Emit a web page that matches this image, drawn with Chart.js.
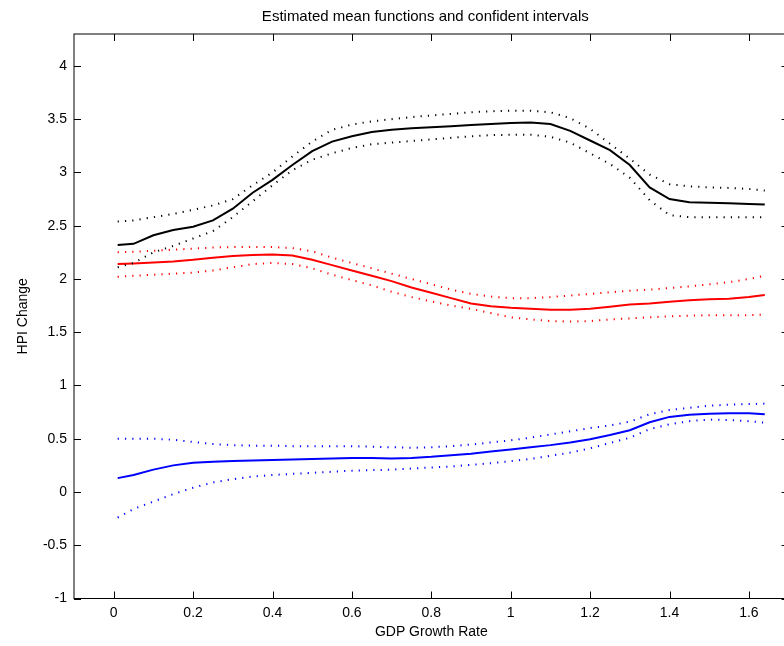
<!DOCTYPE html>
<html>
<head>
<meta charset="utf-8">
<title>HPI Change vs GDP Growth Rate</title>
<script src="https://cdn.jsdelivr.net/npm/chart.js@4.4.0/dist/chart.umd.min.js"></script>
<style>
  html, body { margin: 0; padding: 0; background: #fff; overflow: hidden; }
  #wrap { width: 800px; height: 646px; }
</style>
</head>
<body>
<div id="wrap"><canvas id="hpi" width="800" height="646"></canvas></div>
<script>
// GDP growth grid
const gdp = [0.01, 0.05, 0.1, 0.15, 0.2, 0.25, 0.3, 0.35, 0.4, 0.45, 0.5, 0.55, 0.6, 0.65, 0.7, 0.75, 0.8,
  0.85, 0.9, 0.95, 1.0, 1.05, 1.1, 1.15, 1.2, 1.25, 1.3, 1.35, 1.4, 1.45, 1.5, 1.55, 1.6, 1.64];

// black curve + band
const blackMean = [2.32, 2.33, 2.41, 2.46, 2.49, 2.55, 2.66, 2.81, 2.93, 3.07, 3.20, 3.29, 3.34, 3.38, 3.40, 3.415, 3.425,
  3.435, 3.445, 3.455, 3.465, 3.47, 3.455, 3.39, 3.30, 3.21, 3.07, 2.86, 2.75, 2.72, 2.715, 2.71, 2.705, 2.70];
const blackUpper = [2.54, 2.55, 2.58, 2.61, 2.65, 2.69, 2.75, 2.88, 3.00, 3.15, 3.29, 3.40, 3.45, 3.48, 3.50, 3.52, 3.535,
  3.55, 3.565, 3.575, 3.58, 3.58, 3.565, 3.51, 3.41, 3.27, 3.13, 2.98, 2.89, 2.87, 2.86, 2.855, 2.845, 2.83];
const blackLower = [2.11, 2.15, 2.25, 2.31, 2.38, 2.45, 2.58, 2.73, 2.88, 3.02, 3.12, 3.18, 3.23, 3.265, 3.28, 3.295, 3.31,
  3.325, 3.34, 3.35, 3.355, 3.355, 3.335, 3.28, 3.18, 3.08, 2.95, 2.74, 2.60, 2.58, 2.58, 2.58, 2.58, 2.58];

// red curve + band
const redMean = [2.14, 2.145, 2.155, 2.165, 2.18, 2.20, 2.215, 2.225, 2.23, 2.22, 2.18, 2.13, 2.08, 2.03, 1.98, 1.92, 1.87,
  1.82, 1.77, 1.745, 1.73, 1.72, 1.71, 1.71, 1.72, 1.74, 1.76, 1.77, 1.785, 1.80, 1.81, 1.815, 1.83, 1.85];
const redUpper = [2.25, 2.255, 2.265, 2.275, 2.285, 2.295, 2.30, 2.30, 2.30, 2.29, 2.26, 2.20, 2.15, 2.10, 2.05, 2.00, 1.95,
  1.90, 1.86, 1.835, 1.82, 1.82, 1.83, 1.845, 1.86, 1.875, 1.89, 1.90, 1.915, 1.93, 1.95, 1.97, 2.00, 2.03];
const redLower = [2.02, 2.03, 2.04, 2.05, 2.06, 2.08, 2.11, 2.14, 2.15, 2.14, 2.10, 2.04, 1.99, 1.94, 1.88, 1.83, 1.79,
  1.75, 1.72, 1.68, 1.64, 1.62, 1.605, 1.60, 1.605, 1.62, 1.63, 1.64, 1.65, 1.655, 1.66, 1.66, 1.66, 1.665];

// blue curve + band
const blueMean = [0.13, 0.16, 0.21, 0.25, 0.275, 0.285, 0.29, 0.295, 0.30, 0.305, 0.31, 0.315, 0.32, 0.32, 0.315, 0.32, 0.33,
  0.345, 0.36, 0.38, 0.40, 0.42, 0.44, 0.465, 0.495, 0.535, 0.58, 0.655, 0.705, 0.725, 0.735, 0.74, 0.74, 0.73];
const blueUpper = [0.50, 0.50, 0.50, 0.49, 0.47, 0.45, 0.44, 0.435, 0.435, 0.43, 0.43, 0.43, 0.43, 0.425, 0.42, 0.415, 0.42,
  0.43, 0.445, 0.465, 0.485, 0.51, 0.54, 0.57, 0.60, 0.625, 0.66, 0.73, 0.77, 0.79, 0.81, 0.82, 0.825, 0.83];
const blueLower = [-0.24, -0.16, -0.09, -0.02, 0.04, 0.09, 0.12, 0.145, 0.16, 0.17, 0.18, 0.19, 0.20, 0.205, 0.21, 0.22, 0.23,
  0.24, 0.255, 0.27, 0.29, 0.31, 0.34, 0.37, 0.41, 0.46, 0.51, 0.59, 0.635, 0.665, 0.68, 0.675, 0.665, 0.65];

const xTicks = [0, 0.2, 0.4, 0.6, 0.8, 1, 1.2, 1.4, 1.6];
const yTicks = [-1, -0.5, 0, 0.5, 1, 1.5, 2, 2.5, 3, 3.5, 4];
const titleText = 'Estimated mean functions and confident intervals';

Chart.defaults.font.family = "'Liberation Sans', Arial, Helvetica, sans-serif";
Chart.defaults.font.size = 14;
Chart.defaults.color = '#000';

const pts = arr => gdp.map((x, i) => ({ x: x, y: arr[i] }));

const solid = (arr, col) => ({
  data: pts(arr), borderColor: col, borderWidth: 2, pointRadius: 0, fill: false, tension: 0
});
// short dots every ~7px, like matlab ':'
const dotted = (arr, col) => ({
  data: pts(arr), borderColor: col, borderWidth: 2, borderDash: [1.2, 6.1], borderCapStyle: 'butt',
  pointRadius: 0, fill: false, tension: 0
});

// box around the axes with inward ticks on all four sides, title centred over the axes
const TICK = 7;
const boxTicks = {
  id: 'boxTicks',
  afterDraw(chart) {
    const { ctx, chartArea: a, scales: { x, y } } = chart;
    ctx.save();
    ctx.strokeStyle = '#000';
    ctx.lineWidth = 1;
    ctx.strokeRect(a.left, a.top, a.right - a.left, a.bottom - a.top);
    ctx.beginPath();
    x.ticks.forEach(t => {
      const px = Math.round(x.getPixelForValue(t.value)) + 0.5;
      ctx.moveTo(px, a.bottom); ctx.lineTo(px, a.bottom - TICK);
      ctx.moveTo(px, a.top); ctx.lineTo(px, a.top + TICK);
    });
    y.ticks.forEach(t => {
      const py = Math.round(y.getPixelForValue(t.value)) + 0.5;
      ctx.moveTo(a.left, py); ctx.lineTo(a.left + TICK, py);
      ctx.moveTo(a.right, py); ctx.lineTo(a.right - TICK, py);
    });
    ctx.stroke();

    ctx.fillStyle = '#000';
    ctx.font = "15px 'Liberation Sans', Arial, Helvetica, sans-serif";
    ctx.textAlign = 'center';
    ctx.textBaseline = 'middle';
    ctx.fillText(titleText, (a.left + a.right) / 2 - 6, 17);
    ctx.restore();
  }
};

new Chart(document.getElementById('hpi'), {
  type: 'line',
  data: {
    datasets: [
      dotted(blackUpper, '#000000'), dotted(blackLower, '#000000'), solid(blackMean, '#000000'),
      dotted(redUpper, '#ff0000'), dotted(redLower, '#ff0000'), solid(redMean, '#ff0000'),
      dotted(blueUpper, '#0000ff'), dotted(blueLower, '#0000ff'), solid(blueMean, '#0000ff')
    ]
  },
  options: {
    responsive: false,
    animation: false,
    layout: { padding: { left: 0, top: 34, right: 11.4, bottom: 0 } },
    plugins: {
      legend: { display: false },
      tooltip: { enabled: false },
      title: { display: false }
    },
    scales: {
      x: {
        type: 'linear',
        min: -0.1,
        max: 1.7,
        afterBuildTicks: s => { s.ticks = xTicks.map(v => ({ value: v })); },
        afterFit: s => { s.height = 646 - 598.5; },
        grid: { display: false, drawTicks: false },
        border: { display: false },
        ticks: { padding: 6, maxRotation: 0, callback: v => String(v) },
        title: { display: true, text: 'GDP Growth Rate', font: { size: 14 }, padding: { top: 0, bottom: 5.6 } }
      },
      y: {
        type: 'linear',
        min: -1,
        max: 4.3,
        afterBuildTicks: s => { s.ticks = yTicks.map(v => ({ value: v })); },
        afterFit: s => { s.width = 74; },
        grid: { display: false, drawTicks: false },
        border: { display: false },
        ticks: { padding: 7, callback: v => String(v) },
        title: { display: true, text: 'HPI Change', font: { size: 14 }, padding: { top: 14.6, bottom: 0 } }
      }
    }
  },
  plugins: [boxTicks]
});
</script>
</body>
</html>
